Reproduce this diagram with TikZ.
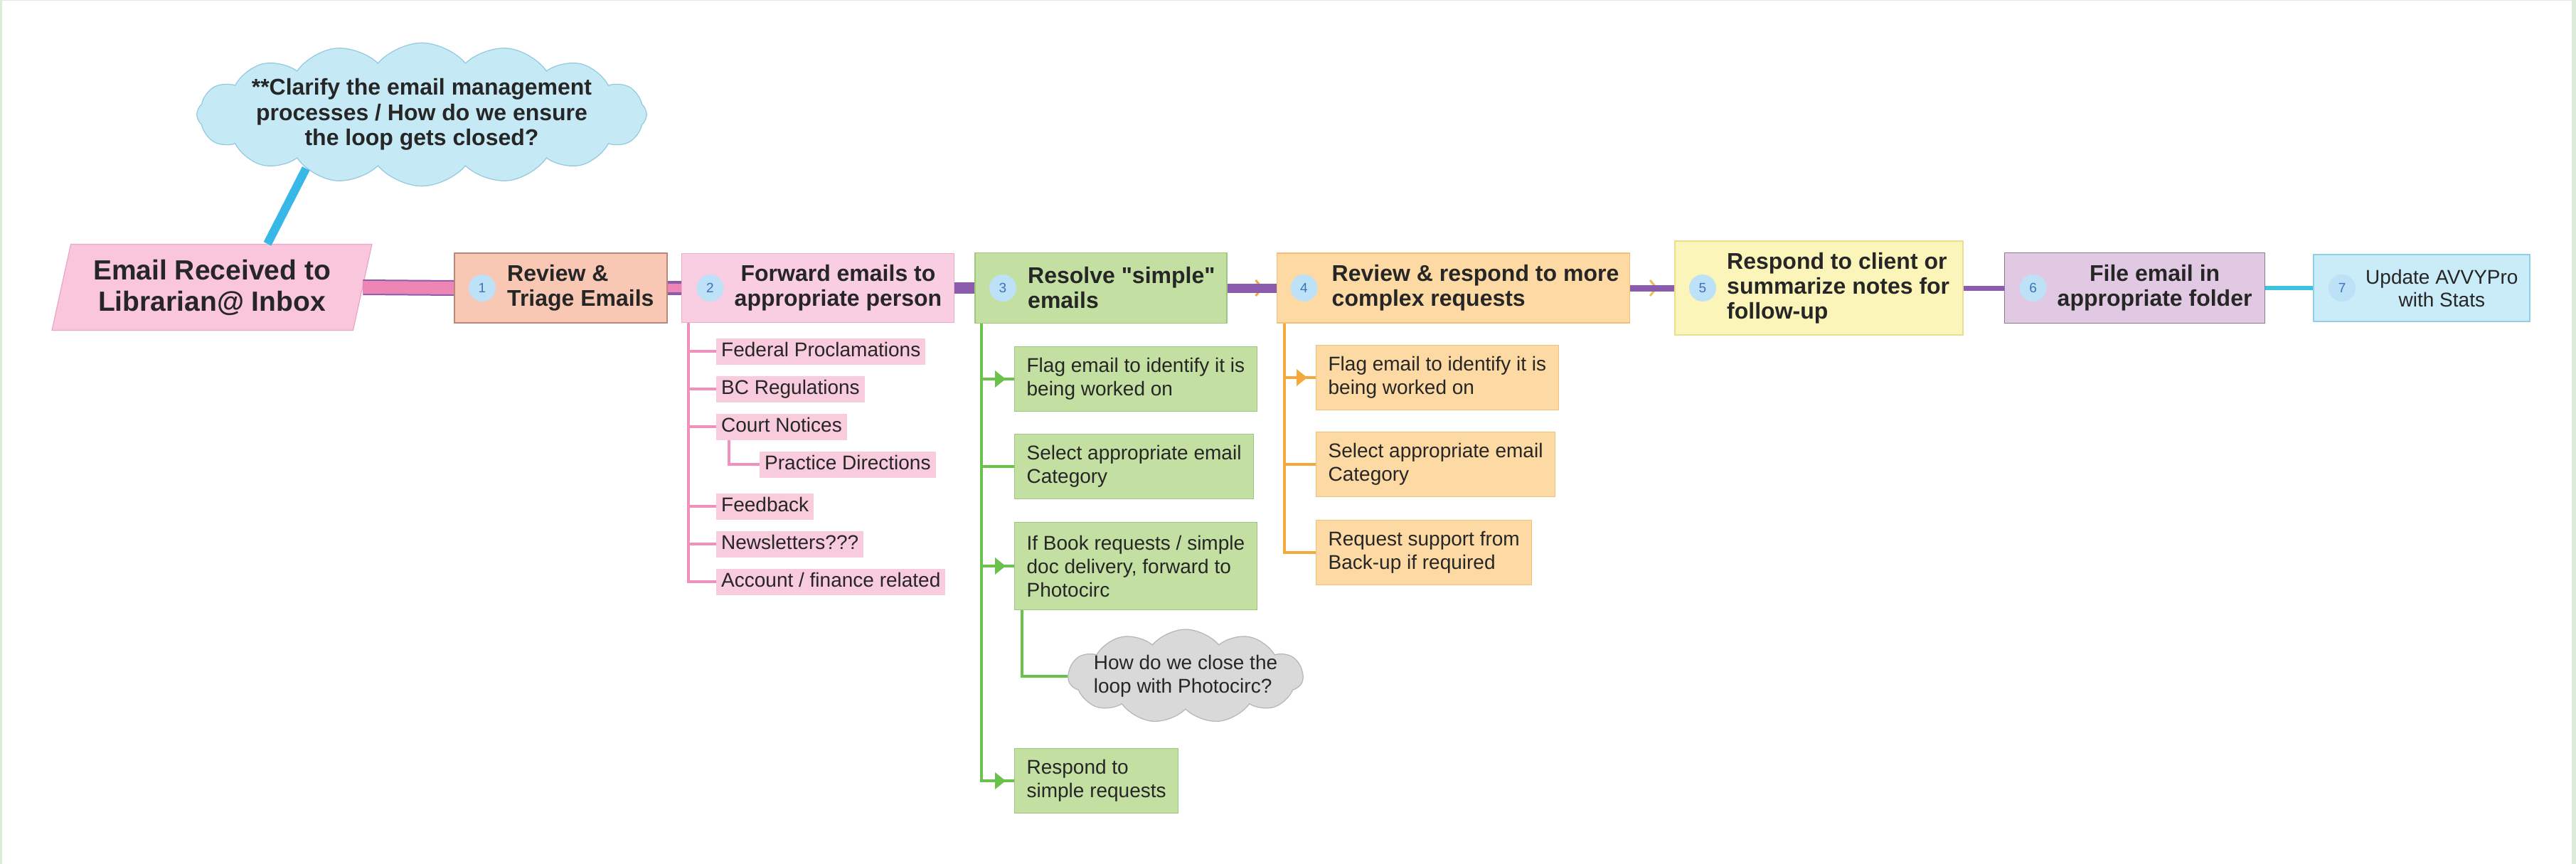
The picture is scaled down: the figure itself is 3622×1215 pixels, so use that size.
\documentclass[tikz,border=0pt]{standalone}
\usepackage{fontspec}
\setmainfont{Liberation Sans}
\newfontfamily\rawquotes{Liberation Sans}
\usepackage{xcolor}
\usepackage{tikz}
\usetikzlibrary{arrows.meta,positioning,shapes.geometric,shapes.symbols}
\definecolor{ink}{RGB}{38,38,38}
\definecolor{frame}{RGB}{221,235,219}
\definecolor{inboxfill}{RGB}{249,198,220}
\definecolor{inboxline}{RGB}{233,166,198}
\definecolor{triage}{RGB}{249,200,180}
\definecolor{triageline}{RGB}{184,136,120}
\definecolor{fwd}{RGB}{249,205,226}
\definecolor{fwdline}{RGB}{232,174,203}
\definecolor{simple}{RGB}{195,224,162}
\definecolor{simpleline}{RGB}{156,199,126}
\definecolor{complex}{RGB}{253,217,163}
\definecolor{complexline}{RGB}{242,190,120}
\definecolor{followup}{RGB}{252,245,185}
\definecolor{followupline}{RGB}{235,222,142}
\definecolor{folder}{RGB}{226,201,227}
\definecolor{folderline}{RGB}{143,122,150}
\definecolor{stats}{RGB}{201,236,248}
\definecolor{statsline}{RGB}{141,208,232}
\definecolor{numfill}{RGB}{189,226,248}
\definecolor{numink}{RGB}{61,114,184}
\definecolor{flow}{RGB}{139,91,174}
\definecolor{flowpink}{RGB}{238,134,181}
\definecolor{branchgreen}{RGB}{106,194,76}
\definecolor{branchorange}{RGB}{244,169,58}
\definecolor{branchpink}{RGB}{240,144,188}
\definecolor{chevgold}{RGB}{233,196,74}
\definecolor{statsflow}{RGB}{62,195,222}
\definecolor{notefill}{RGB}{198,233,246}
\definecolor{noteline}{RGB}{146,201,223}
\definecolor{noteflow}{RGB}{56,184,230}
\definecolor{askfill}{RGB}{217,217,217}
\definecolor{askline}{RGB}{181,181,181}
\definecolor{subpink}{RGB}{248,203,221}

\begin{document}
\begin{tikzpicture}[
  x=1pt,y=1pt,
  text=ink,
  stepbox/.style={draw,line width=1.5pt,inner sep=0pt},
  steptxt/.style={anchor=west,align=left,inner sep=0pt,font=\bfseries\fontsize{32}{35}\selectfont},
  num/.style={circle,fill=numfill,minimum size=38pt,inner sep=0pt,text=numink,font=\fontsize{19}{19}\selectfont},
  leaf/.style={anchor=west,align=left,line width=1.2pt,inner xsep=17pt,inner ysep=0pt,minimum height=91pt,font=\fontsize{28}{33}\selectfont},
  tag/.style={anchor=west,fill=subpink,inner xsep=7pt,inner ysep=0pt,minimum height=37pt,text height=20pt,text depth=6pt,font=\fontsize{28}{33}\selectfont},
  note/.style={cloud,cloud puff arc=100,line width=1.2pt},
  twig/.style={draw=#1,line width=4pt},
  tipped/.style={postaction={draw=#1,line width=4pt,-{Triangle[length=15pt,width=23pt]},shorten >=12pt}},
  flowband/.style={draw=flow,double=flowpink},
]
\fill[white] (0,0) rectangle (3622,-1215);
\useasboundingbox (0,0) rectangle (3622,-1215);
% frame
\fill[frame] (0,0) rectangle (3,-1215);
\fill[frame] (0,0) rectangle (3622,-1.5);
\fill[frame] (3616,0) rectangle (3622,-1215);

% main flow
\node[trapezium,trapezium left angle=75,trapezium right angle=105,trapezium stretches=true,
  draw=inboxline,fill=inboxfill,line width=1.2pt,minimum width=452pt,minimum height=121pt,
  align=center,font=\bfseries\fontsize{39}{44}\selectfont] (inbox) at (298,-404)
  {Email Received to\\Librarian@ Inbox};
\node[stepbox,fill=triage,draw=triageline,minimum width=299pt,minimum height=98pt,anchor=west] (b1) at (638,-405) {};
\node[stepbox,fill=fwd,draw=fwdline,minimum width=383pt,minimum height=97pt,right=19pt of b1] (b2) {};
\node[stepbox,fill=simple,draw=simpleline,minimum width=354pt,minimum height=99pt,right=28pt of b2] (b3) {};
\node[stepbox,fill=complex,draw=complexline,minimum width=496pt,minimum height=98pt,right=69pt of b3] (b4) {};
\node[stepbox,fill=followup,draw=followupline,minimum width=405pt,minimum height=132pt,right=62pt of b4] (b5) {};
\node[stepbox,fill=folder,draw=folderline,minimum width=366pt,minimum height=99pt,right=57pt of b5] (b6) {};
\node[stepbox,fill=stats,draw=statsline,minimum width=304pt,minimum height=94pt,right=67pt of b6] (b7) {};

\node[num] (n1) at ([xshift=40pt]b1.west) {1};
\node[num] (n2) at ([xshift=41pt]b2.west) {2};
\node[num] (n3) at ([xshift=40pt]b3.west) {3};
\node[num] (n4) at ([xshift=39pt]b4.west) {4};
\node[num] (n5) at ([xshift=40pt]b5.west) {5};
\node[num] (n6) at ([xshift=41pt]b6.west) {6};
\node[num] (n7) at ([xshift=41pt]b7.west) {7};

\node[steptxt] (t1) at ([xshift=75pt]b1.west) {Review \&\\Triage Emails};
\node[steptxt,align=center] (t2) at ([xshift=75pt]b2.west) {Forward emails to\\appropriate person};
\node[steptxt] (t3) at ([xshift=75pt]b3.west) {Resolve {\rawquotes"simple"}\\emails};
\node[steptxt] (t4) at ([xshift=78pt]b4.west) {Review \& respond to more\\complex requests};
\node[steptxt] (t5) at ([xshift=74pt]b5.west) {Respond to client or\\summarize notes for\\follow-up};
\node[steptxt,align=center] (t6) at ([xshift=75pt]b6.west) {File email in\\appropriate folder};
\node[steptxt,align=center,font=\fontsize{28}{32}\selectfont] (t7) at ([xshift=74pt]b7.west) {Update AVVYPro\\with Stats};

% notes
\node[note,cloud puffs=16,aspect=4.3,inner xsep=-16pt,inner ysep=-19pt,draw=noteline,fill=notefill,
  align=center,font=\bfseries\fontsize{32}{35.5}\selectfont] (clarify) at (593,-161)
  {**Clarify the email management\\processes / How do we ensure\\the loop gets closed?};
\node[note,cloud puffs=11,aspect=3.6,inner xsep=-12pt,inner ysep=-8pt,draw=askline,fill=askfill,
  align=left,font=\fontsize{28}{33}\selectfont] (ask) at (1667,-951)
  {How do we close the\\loop with Photocirc?};

% forward targets
\node[tag] (p1) at (1007,-494) {Federal Proclamations};
\node[tag] (p2) at (1007,-547) {BC Regulations};
\node[tag] (p3) at (1007,-600) {Court Notices};
\node[tag] (p4) at (1068,-653) {Practice Directions};
\node[tag] (p5) at (1007,-712) {Feedback};
\node[tag] (p6) at (1007,-765) {Newsletters???};
\node[tag] (p7) at (1007,-818) {Account / finance related};

% simple requests
\node[leaf,fill=simple,draw=simpleline] (g1) at (1426,-533) {Flag email to identify it is\\being worked on};
\node[leaf,fill=simple,draw=simpleline] (g2) at (1426,-656) {Select appropriate email\\Category};
\node[leaf,fill=simple,draw=simpleline,minimum height=123pt] (g3) at (1426,-796) {If Book requests / simple\\doc delivery, forward to\\Photocirc};
\node[leaf,fill=simple,draw=simpleline] (g4) at (1426,-1098) {Respond to\\simple requests};

% complex requests
\node[leaf,fill=complex,draw=complexline] (o1) at (1850,-531) {Flag email to identify it is\\being worked on};
\node[leaf,fill=complex,draw=complexline] (o2) at (1850,-653) {Select appropriate email\\Category};
\node[leaf,fill=complex,draw=complexline] (o3) at (1850,-777) {Request support from\\Back-up if required};

% connectors
\draw[noteflow,line width=12pt] ([xshift=78pt]inbox.north) -- (clarify.205);
\draw[flowband,line width=2pt,double distance=18pt] (inbox.east) -- (b1.west);
\draw[flowband,line width=4pt,double distance=12pt] (b1) -- (b2);
\draw[flow,line width=16pt] (b2) -- (b3);
\draw[branchorange,line width=3pt,-{Straight Barb[length=9pt,width=22pt]},shorten >=18pt] (b3) -- (b4);
\draw[flow,line width=13pt] (b3) -- (b4);
\draw[chevgold,line width=3pt,-{Straight Barb[length=9pt,width=22pt]},shorten >=23pt] (b4) -- (b5);
\draw[flow,line width=9pt] (b4) -- (b5);
\draw[flow,line width=7pt] (b5) -- (b6);
\draw[statsflow,line width=6pt] (b6) -- (b7);

\draw[twig=branchpink] ([xshift=10pt]b2.south west) |- (p1);
\draw[twig=branchpink] ([xshift=10pt]b2.south west) |- (p2);
\draw[twig=branchpink] ([xshift=10pt]b2.south west) |- (p3);
\draw[twig=branchpink] ([xshift=18pt]p3.south west) |- (p4);
\draw[twig=branchpink] ([xshift=10pt]b2.south west) |- (p5);
\draw[twig=branchpink] ([xshift=10pt]b2.south west) |- (p6);
\draw[twig=branchpink] ([xshift=10pt]b2.south west) |- (p7);

\draw[twig=branchgreen,tipped=branchgreen] ([xshift=10pt]b3.south west) |- (g1);
\draw[twig=branchgreen] ([xshift=10pt]b3.south west) |- (g2);
\draw[twig=branchgreen,tipped=branchgreen] ([xshift=10pt]b3.south west) |- (g3);
\draw[twig=branchgreen,tipped=branchgreen] ([xshift=10pt]b3.south west) |- (g4);
\draw[twig=branchgreen] ([xshift=11pt]g3.south west) |- (ask);

\draw[twig=branchorange,tipped=branchorange] ([xshift=11pt]b4.south west) |- (o1);
\draw[twig=branchorange] ([xshift=11pt]b4.south west) |- (o2);
\draw[twig=branchorange] ([xshift=11pt]b4.south west) |- (o3);
\end{tikzpicture}
\end{document}
